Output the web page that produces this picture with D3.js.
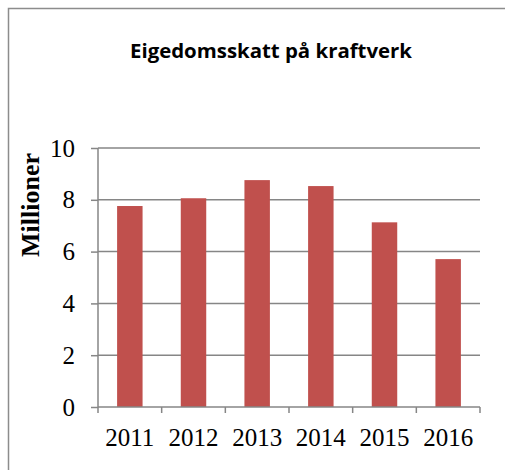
<!DOCTYPE html>
<html><head><meta charset="utf-8">
<script src="https://cdn.jsdelivr.net/npm/d3@7"></script>
<style>body{margin:0;background:#fff}svg{display:block}</style>
</head><body>
<script>
const years = ["2011","2012","2013","2014","2015","2016"];
const values = [7.76, 8.06, 8.76, 8.53, 7.13, 5.71];
const yTicks = [0, 2, 4, 6, 8, 10];
const title = "Eigedomsskatt på kraftverk";
const yLabel = "Millioner";

const W = 505, H = 470;
const m = {left: 98, right: 25, top: 148, bottom: 63};
const serif = "Liberation Serif, Times New Roman, serif";
const svg = d3.select("body").append("svg").attr("width", W).attr("height", H);

svg.append("rect").attr("x", 8.5).attr("y", 8.5).attr("width", 520).attr("height", 480)
  .attr("fill", "#fff").attr("stroke", "#8c8c8c").attr("stroke-width", 1.5);

const x = d3.scaleBand().domain(years).range([m.left, W - m.right]).paddingInner(0.6).paddingOuter(0.3);
const xb = d3.scaleBand().domain(years).range([m.left, W - m.right]);
const y = d3.scaleLinear().domain([0, 10]).range([H - m.bottom, m.top]);

// gridlines
svg.append("g").selectAll("line").data(yTicks.filter(d => d > 0)).join("line")
  .attr("x1", m.left).attr("x2", W - m.right)
  .attr("y1", d => y(d)).attr("y2", d => y(d))
  .attr("stroke", "#868686").attr("stroke-width", 1.5);

// bars
svg.append("g").selectAll("rect").data(values).join("rect")
  .attr("x", (d, i) => x(years[i])).attr("width", x.bandwidth())
  .attr("y", d => y(d)).attr("height", d => y(0) - y(d))
  .attr("fill", "#C0504D");

// y axis
const yAxis = d3.axisLeft(y).tickValues(yTicks).tickSize(7).tickPadding(16).tickFormat(d3.format("d"));
const gy = svg.append("g").attr("transform", `translate(${m.left},0)`).call(yAxis);
gy.select(".domain").attr("stroke", "#868686").attr("stroke-width", 1.5).attr("d", `M0,${y(0)}V${y(10)}`);
gy.selectAll(".tick line").attr("stroke", "#868686").attr("stroke-width", 1.5);
gy.selectAll("text").attr("font-family", serif).attr("font-size", 25).attr("fill", "#000");

// x axis
const gx = svg.append("g").attr("transform", `translate(0,${y(0)})`);
gx.append("line").attr("x1", m.left).attr("x2", W - m.right).attr("y1", 0).attr("y2", 0)
  .attr("stroke", "#868686").attr("stroke-width", 1.5);
const bounds = years.map(d => xb(d)).concat([xb(years[years.length-1]) + xb.bandwidth()]);
gx.selectAll(".tk").data(bounds).join("line").attr("class", "tk")
  .attr("x1", d => d).attr("x2", d => d).attr("y1", 0).attr("y2", 6)
  .attr("stroke", "#868686").attr("stroke-width", 1.5);
gx.selectAll("text").data(years).join("text")
  .attr("x", d => xb(d) + xb.bandwidth()/2).attr("y", 39)
  .attr("text-anchor", "middle")
  .attr("font-family", serif).attr("font-size", 25).attr("fill", "#000")
  .text(d => d);

// y label
svg.append("text").attr("transform", `translate(39,205) rotate(-90)`)
  .attr("text-anchor", "middle").attr("font-family", serif)
  .attr("font-weight", "bold").attr("font-size", 26).attr("fill", "#000").text(yLabel);

// title
svg.append("text").attr("x", 130).attr("y", 58).attr("text-anchor", "start")
  .attr("textLength", 282).attr("lengthAdjust", "spacingAndGlyphs")
  .attr("font-family", "Open Sans, Liberation Sans, sans-serif").attr("font-weight", "bold")
  .attr("font-size", 19.5).attr("fill", "#000").text(title);
</script>
</body></html>
